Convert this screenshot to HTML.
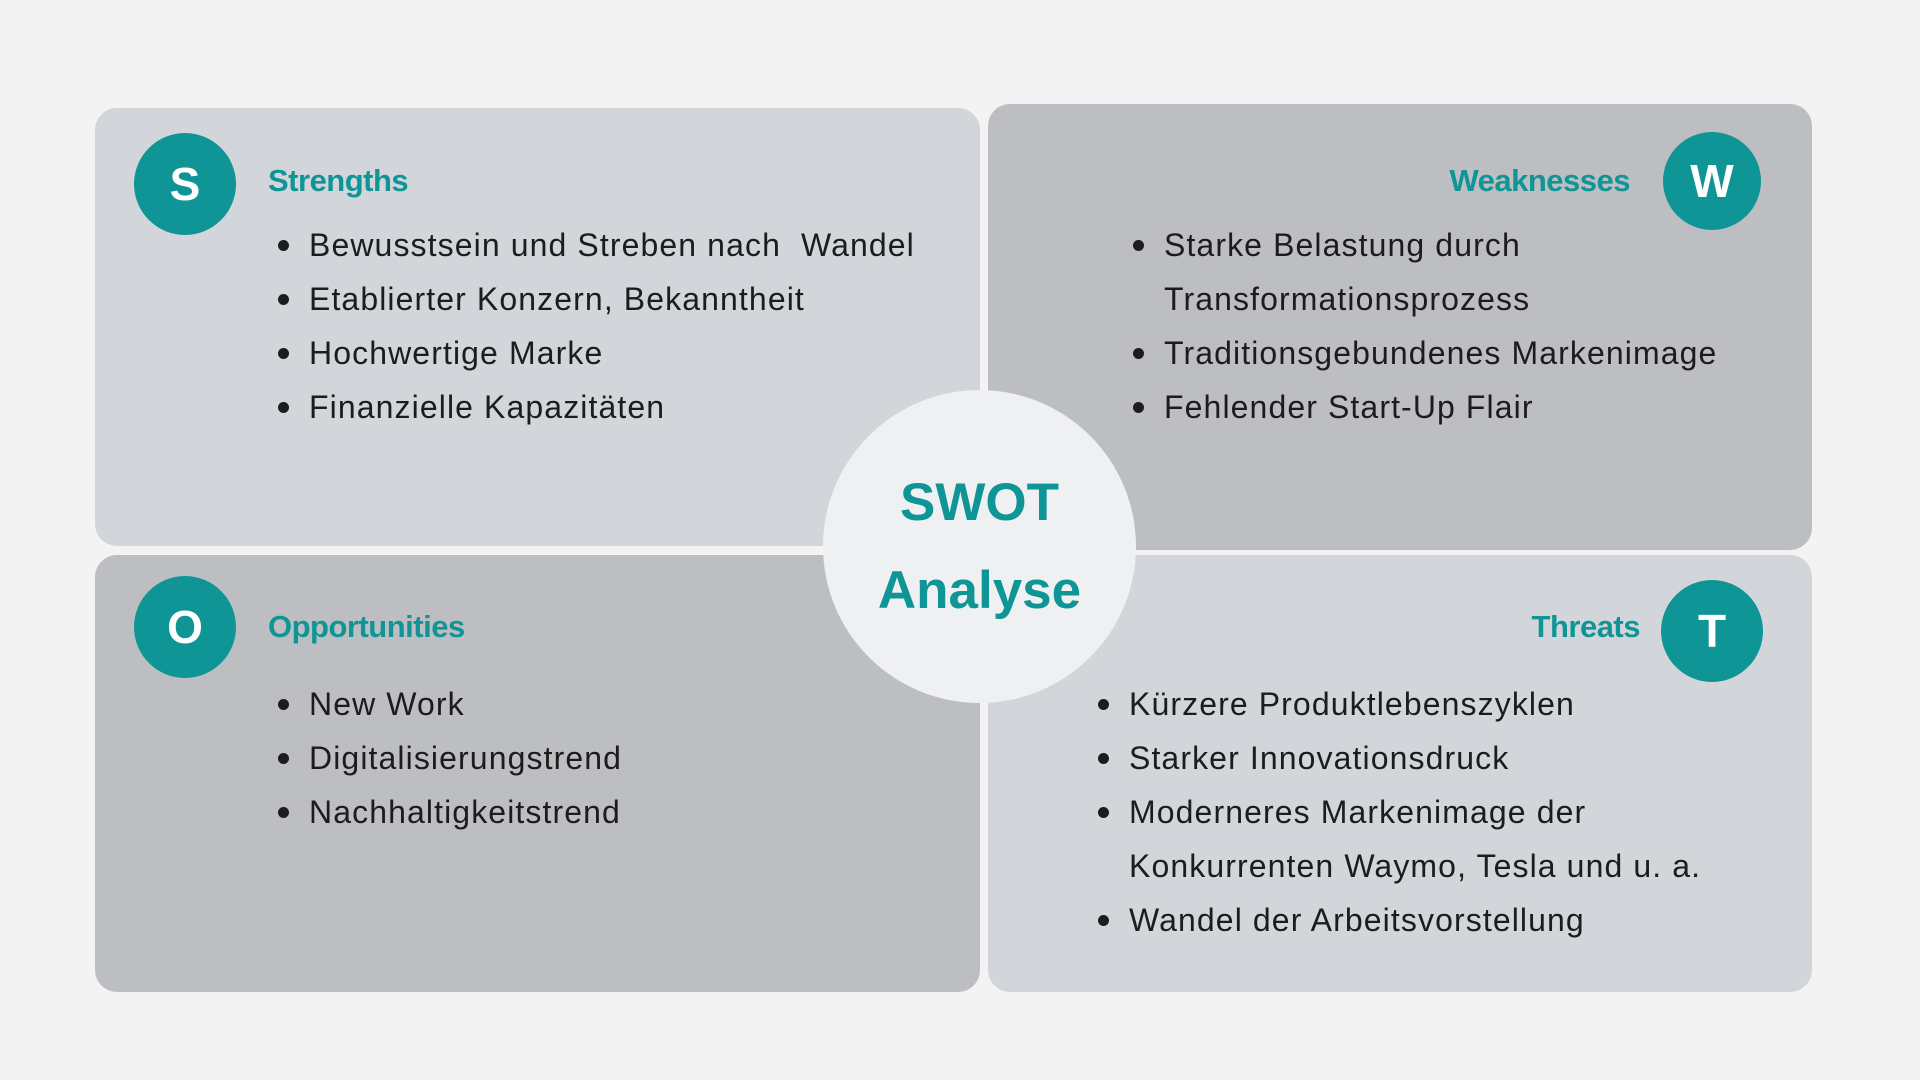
<!DOCTYPE html>
<html><head><meta charset="utf-8"><style>
body{margin:0;width:1920px;height:1080px;background:#f3f3f3;position:relative;overflow:hidden;font-family:"Liberation Sans",sans-serif}
.box{position:absolute;border-radius:22px}
.circ{position:absolute;border-radius:50%;background:#0f9596;color:#fff;font-weight:bold;display:flex;align-items:center;justify-content:center;font-size:46px}
.h{position:absolute;color:#0f9596;font-weight:bold;font-size:31px;line-height:40px;letter-spacing:-0.5px}
ul{position:absolute;margin:0;padding:0;list-style:none;color:#1c1c1c;font-size:32px;line-height:54px;letter-spacing:1.1px}
li{position:relative;padding-left:31px;white-space:nowrap}
li.b::before{content:"";position:absolute;left:0;top:22px;width:11px;height:11px;border-radius:50%;background:#1c1c1c}
</style></head><body>
<div class="box" style="left:95px;top:108px;width:885px;height:438px;background:#d2d6da"></div>
<div class="box" style="left:988px;top:104px;width:824px;height:446px;background:#bdbec1"></div>
<div class="box" style="left:95px;top:555px;width:885px;height:437px;background:#bdbec1"></div>
<div class="box" style="left:988px;top:555px;width:824px;height:437px;background:#d2d6da"></div>

<div class="circ" style="left:134px;top:133px;width:102px;height:102px">S</div>
<div class="circ" style="left:1663px;top:132px;width:98px;height:98px">W</div>
<div class="circ" style="left:134px;top:576px;width:102px;height:102px">O</div>
<div class="circ" style="left:1661px;top:580px;width:102px;height:102px">T</div>

<div class="h" style="left:268px;top:161px">Strengths</div>
<div class="h" style="right:290px;top:161px">Weaknesses</div>
<div class="h" style="left:268px;top:607px">Opportunities</div>
<div class="h" style="right:280px;top:607px">Threats</div>

<ul style="left:278px;top:218px">
<li class="b">Bewusstsein und Streben nach&nbsp; Wandel</li>
<li class="b">Etablierter Konzern, Bekanntheit</li>
<li class="b">Hochwertige Marke</li>
<li class="b">Finanzielle Kapazitäten</li>
</ul>
<ul style="left:1133px;top:218px">
<li class="b">Starke Belastung durch</li>
<li>Transformationsprozess</li>
<li class="b">Traditionsgebundenes Markenimage</li>
<li class="b">Fehlender Start-Up Flair</li>
</ul>
<ul style="left:278px;top:677px">
<li class="b">New Work</li>
<li class="b">Digitalisierungstrend</li>
<li class="b">Nachhaltigkeitstrend</li>
</ul>
<ul style="left:1098px;top:677px">
<li class="b">Kürzere Produktlebenszyklen</li>
<li class="b">Starker Innovationsdruck</li>
<li class="b">Moderneres Markenimage der</li>
<li>Konkurrenten Waymo, Tesla und u. a.</li>
<li class="b">Wandel der Arbeitsvorstellung</li>
</ul>

<div style="position:absolute;left:823px;top:390px;width:313px;height:313px;border-radius:50%;background:#eef0f1;display:flex;flex-direction:column;align-items:center;justify-content:center;color:#0f9596;font-weight:bold;font-size:53px;line-height:88px">
<div>SWOT</div>
<div>Analyse</div>
</div>
</body></html>
